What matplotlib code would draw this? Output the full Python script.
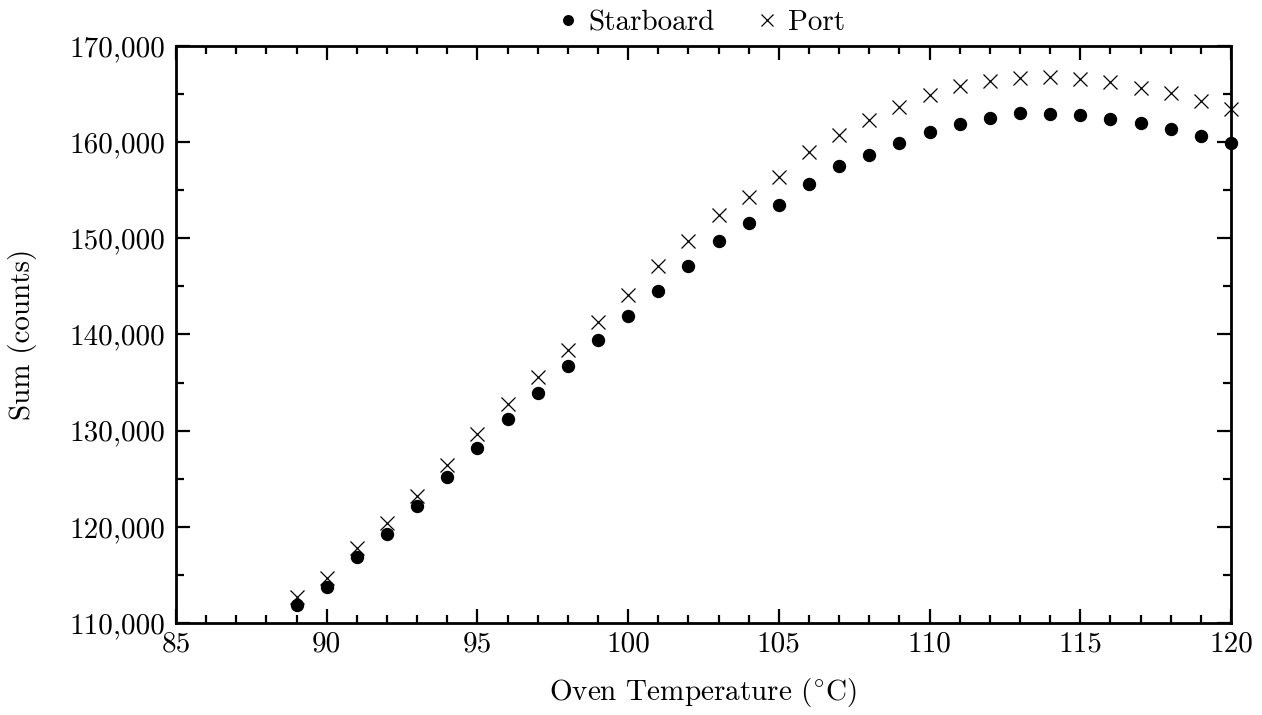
import matplotlib
matplotlib.use("Agg")
import matplotlib.pyplot as plt
from matplotlib.ticker import FuncFormatter, MultipleLocator

temps = [89, 90, 91, 92, 93, 94, 95, 96, 97, 98, 99, 100, 101, 102, 103, 104,
         105, 106, 107, 108, 109, 110, 111, 112, 113, 114, 115, 116, 117, 118, 119, 120]
starboard = [111900, 113700, 116900, 119300, 122200, 125200, 128200, 131200,
             133900, 136700, 139400, 141900, 144500, 147100, 149700, 151600,
             153500, 155600, 157500, 158700, 159900, 161100, 161900, 162500,
             163000, 162900, 162800, 162400, 162000, 161400, 160600, 159900]
port = [112700, 114700, 117800, 120400, 123200, 126400, 129600, 132800,
        135600, 138400, 141300, 144100, 147100, 149700, 152400, 154300,
        156400, 159000, 160700, 162300, 163700, 164900, 165800, 166400,
        166700, 166800, 166600, 166300, 165600, 165100, 164300, 163400]

plt.rcParams['font.family'] = ['cmr10', 'DejaVu Serif']
plt.rcParams['mathtext.fontset'] = 'cm'
plt.rcParams['axes.formatter.use_mathtext'] = True

FS = 21

fig = plt.figure(figsize=(12.62, 7.15), dpi=100)
ax = fig.add_axes([0.1395, 0.1287, 0.8359, 0.807])

ax.plot(temps, starboard, 'o', color='black', markersize=8.6, label='Starboard', clip_on=False, zorder=3)
ax.plot(temps, port, 'x', color='black', markersize=10, markeredgewidth=0.9, label='Port', clip_on=False, zorder=3)

ax.set_xlim(85, 120)
ax.set_ylim(110000, 170000)
ax.xaxis.set_major_locator(MultipleLocator(5))
ax.xaxis.set_minor_locator(MultipleLocator(1))
ax.yaxis.set_major_locator(MultipleLocator(10000))
ax.yaxis.set_minor_locator(MultipleLocator(5000))
ax.yaxis.set_major_formatter(FuncFormatter(lambda v, p: f"{int(v):,}"))
ax.xaxis.set_major_formatter(FuncFormatter(lambda v, p: f"{int(v)}"))

for s in ax.spines.values():
    s.set_linewidth(2)
ax.tick_params(which='both', direction='in', top=True, right=True, width=1.6, labelsize=FS)
ax.tick_params(which='major', length=10)
ax.tick_params(which='minor', length=6)
ax.tick_params(axis='x', pad=6)
ax.tick_params(axis='y', pad=8)

ax.set_xlabel(r'Oven Temperature ($^{\circ}$C)', fontsize=FS, labelpad=13)
ax.set_ylabel('Sum (counts)', fontsize=FS, labelpad=23)

ax.legend(loc='lower center', bbox_to_anchor=(0.496, 1.012), ncol=2, frameon=False,
          fontsize=FS, handletextpad=0.2, columnspacing=1.3, handlelength=1.0,
          markerscale=0.8, borderaxespad=0.0, borderpad=0.1)

fig.savefig('out.png', dpi=100)
